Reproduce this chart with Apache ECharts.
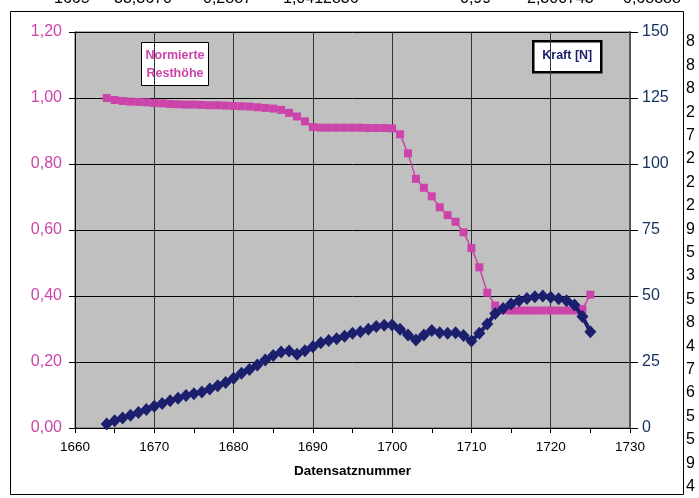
<!DOCTYPE html>
<html>
<head>
<meta charset="utf-8">
<script src="https://cdn.jsdelivr.net/npm/echarts@6/dist/echarts.min.js"></script>
<style>html,body{margin:0;padding:0;background:#fff;}#c{width:699px;height:498px;}</style>
</head>
<body>
<div id="c"></div>
<script>
// Data
const datensatz = [1664,1665,1666,1667,1668,1669,1670,1671,1672,1673,1674,1675,1676,1677,1678,1679,1680,1681,1682,1683,1684,1685,1686,1687,1688,1689,1690,1691,1692,1693,1694,1695,1696,1697,1698,1699,1700,1701,1702,1703,1704,1705,1706,1707,1708,1709,1710,1711,1712,1713,1714,1715,1716,1717,1718,1719,1720,1721,1722,1723,1724,1725];
const resthoehe = [1.000,0.994,0.991,0.989,0.988,0.987,0.985,0.984,0.982,0.981,0.980,0.980,0.979,0.978,0.978,0.977,0.976,0.975,0.974,0.972,0.970,0.968,0.964,0.955,0.944,0.929,0.912,0.910,0.910,0.910,0.910,0.910,0.910,0.909,0.909,0.909,0.908,0.890,0.832,0.755,0.728,0.702,0.669,0.645,0.625,0.593,0.545,0.487,0.410,0.371,0.357,0.356,0.356,0.356,0.356,0.356,0.356,0.356,0.356,0.356,0.360,0.404];
const kraft = [1.5,2.7,3.8,4.8,5.9,7.0,8.2,9.3,10.3,11.3,12.3,13.0,13.6,14.8,16.0,17.2,18.8,20.7,22.2,23.9,25.8,27.5,28.8,29.2,27.9,29.3,30.8,32.3,33.1,33.8,34.8,35.9,36.5,37.4,38.4,38.9,39.0,37.4,35.2,33.3,35.2,36.9,36.1,35.9,36.1,35.0,33.0,35.9,39.4,43.4,45.3,47.0,48.2,49.1,49.7,50.0,49.5,49.0,48.2,46.6,42.2,36.5];
const xTitle = 'Datensatznummer';
const leftName = 'Normierte\nResthöhe';
const rightName = 'Kraft [N]';
const topRowTexts = ['1665','33,3670','0,2887','1,0412836','0,99','2,300743','0,68888'];
const rightColTexts = ['8','8','8','2','7','2','2','2','9','5','3','5','8','4','7','6','5','5','9','4'];

const PINK = '#CC44AA';
const NAVY = '#1B1F6E';
const FONT = '"Liberation Sans", Arial, sans-serif';

const topX = [54,114,203,283,460,527,623];
const graphics = [
  {type:'rect', z:-10, shape:{x:10.5,y:11.5,width:673,height:483}, style:{fill:'#fff', stroke:'#000', lineWidth:1}},
  {type:'group', left:141, top:42, children:[
    {type:'rect', shape:{x:0.5,y:0.5,width:67,height:43}, style:{fill:'#fff', stroke:'#000', lineWidth:1}},
    {type:'text', style:{x:34, y:5, text:leftName, fill:PINK, font:'bold 12.5px '+FONT, align:'center', lineHeight:18}}
  ]},
  {type:'group', left:532, top:40, children:[
    {type:'rect', shape:{x:1,y:1,width:68,height:31}, style:{fill:'#fff', stroke:'#000', lineWidth:2.5}},
    {type:'text', style:{x:35, y:9, text:rightName, fill:NAVY, font:'bold 12.5px '+FONT, align:'center'}}
  ]}
];
topRowTexts.forEach((t,i)=>graphics.push({type:'text', style:{x:topX[i], y:-9, text:t, fill:'#000', font:'16px '+FONT}}));
rightColTexts.forEach((t,i)=>graphics.push({type:'text', style:{x:686, y:34+i*23.4, text:t, fill:'#000', font:'16px '+FONT}}));

const chart = echarts.init(document.getElementById('c'), null, {renderer:'canvas'});
chart.setOption({
  animation:false,
  backgroundColor:'#fff',
  textStyle:{fontFamily:FONT},
  graphic: graphics,
  grid:{left:75, right:69, top:32, bottom:70, show:true, backgroundColor:'#C0C0C0', borderColor:'#555', borderWidth:1},
  xAxis:{
    type:'value', min:1660, max:1730, interval:10,
    name:xTitle, nameLocation:'middle', nameGap:36,
    nameTextStyle:{color:'#000', fontSize:13.5, fontWeight:'bold', fontFamily:FONT},
    axisLine:{show:true, lineStyle:{color:'#000', width:1}},
    axisTick:{show:true, length:5, lineStyle:{color:'#000'}},
    minorTick:{show:true, splitNumber:2, length:5, lineStyle:{color:'#000'}},
    splitLine:{show:true, lineStyle:{color:'#333', width:1}},
    axisLabel:{color:'#000', fontSize:13.5, margin:12, fontFamily:FONT, formatter:v=>String(v)}
  },
  yAxis:[
    {type:'value', min:0, max:1.2, interval:0.2, position:'left',
     axisLine:{show:true, lineStyle:{color:'#000'}},
     axisTick:{show:true, length:6, lineStyle:{color:'#000'}},
     splitLine:{show:true, lineStyle:{color:'#000', width:1}},
     axisLabel:{color:PINK, fontSize:16, margin:13, fontFamily:FONT, formatter:v=>v.toFixed(2).replace('.',',')}
    },
    {type:'value', min:0, max:150, interval:25, position:'right',
     axisLine:{show:true, lineStyle:{color:'#555', width:2}},
     axisTick:{show:true, length:8, lineStyle:{color:'#000'}},
     splitLine:{show:false},
     axisLabel:{color:'#14305F', fontSize:16, margin:12, fontFamily:FONT}
    }
  ],
  series:[
    {type:'line', name:'Normierte Resthöhe', yAxisIndex:0, data:datensatz.map((x,i)=>[x,resthoehe[i]]),
     symbol:'rect', symbolSize:8, showAllSymbol:true,
     itemStyle:{color:PINK}, lineStyle:{color:PINK, width:1.5}, z:2},
    {type:'line', name:'Kraft [N]', yAxisIndex:1, data:datensatz.map((x,i)=>[x,kraft[i]]),
     symbol:'diamond', symbolSize:[12,13], showAllSymbol:true,
     itemStyle:{color:NAVY}, lineStyle:{color:NAVY, width:4}, z:3}
  ]
});
</script>
</body>
</html>
